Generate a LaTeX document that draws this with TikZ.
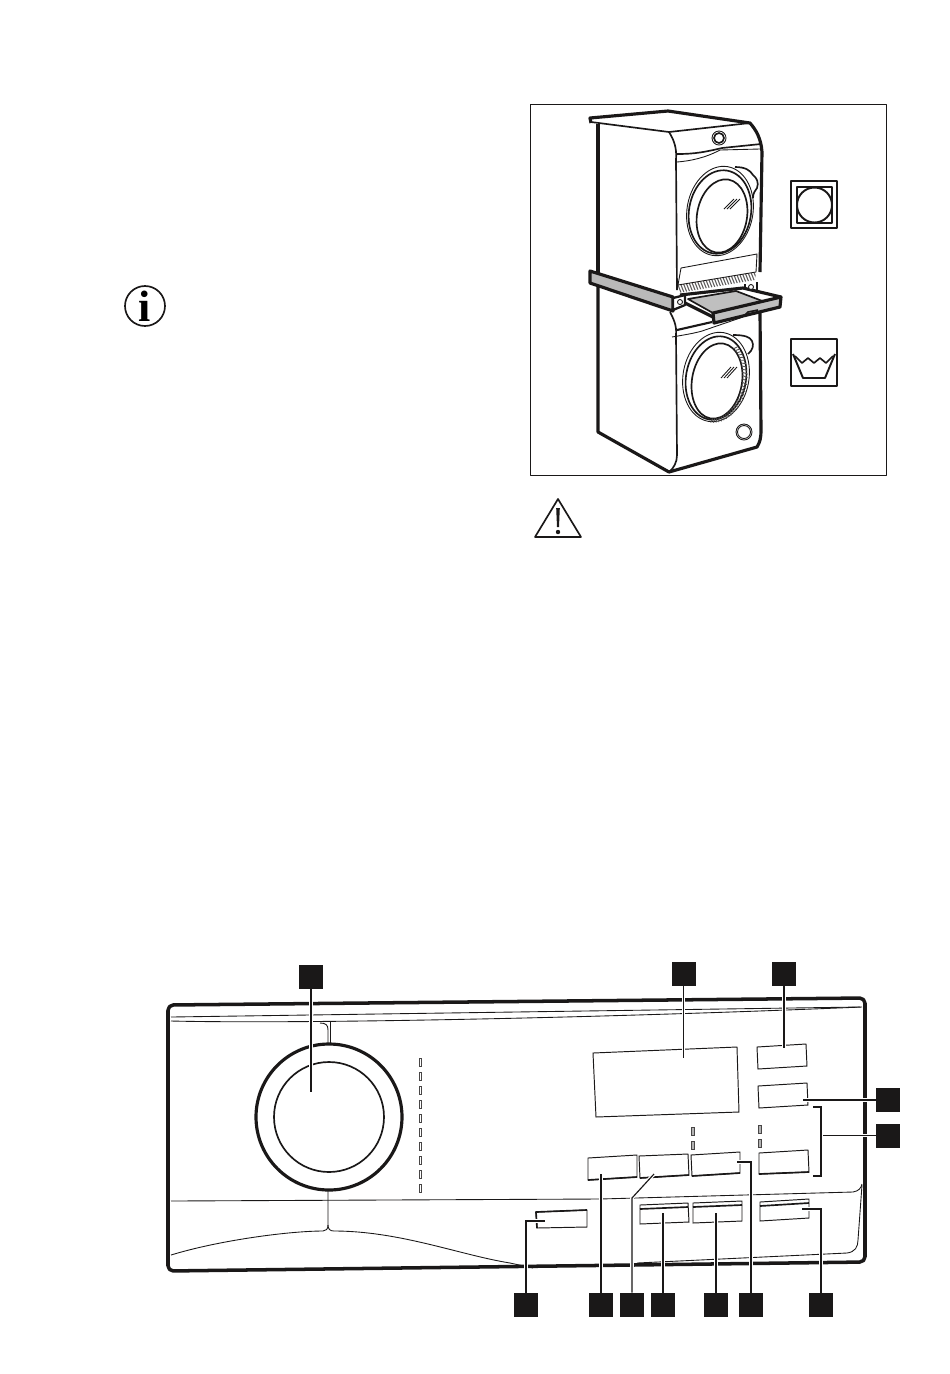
\documentclass[tikz,border=0pt]{standalone}
\usepackage{fontspec}
\newfontfamily\iconfont{Liberation Serif}
\definecolor{ink}{HTML}{1A1818}
\tikzset{
x=0.02cm, y=-0.02cm,
callout/.style = {fill = ink, shape = rectangle, inner sep = 0pt, minimum size = 0.48cm},
leader/.style = {preaction = {draw = white, line width = 2pt}, draw = ink, line width = 0.65pt},
heavy/.style = {draw = ink, line width = 1.8pt, line join = round},
medium/.style = {draw = ink, line width = 0.95pt, line join = round},
fine/.style = {draw = ink, line width = 0.5pt, line join = round},
panelkey/.style = {draw = ink, line width = 0.55pt, fill = white},
led/.style = {draw = ink!80, line width = 0.4pt}
}
\begin{document}
\begin{tikzpicture}
\useasboundingbox (0,0) rectangle (950,1374);
\draw[fine] (530,104) rectangle (886,475);
% info and warning signs
\draw[medium] (145,306) circle [radius = 20];
\node[font = \iconfont\bfseries\fontsize{25}{25}\selectfont, inner sep = 0pt] (infomark) at (145,306) {i};
\draw[medium] (535,537) -- (558,499) -- (581,537) -- cycle;
\fill[ink] (556.2,508) -- (559.8,508) -- (559,527) -- (557,527) -- cycle;
\fill[ink] (558,532) circle [radius = 2.2];
% dryer
\draw[heavy] (591,123) -- (590,118) -- (668,111) -- (750,123) .. controls (756,130) and (761,138) .. (762,152) -- (760,272);
\draw[medium] (591,122) -- (669,132) -- (750,123);
\draw[heavy] (598,124) -- (598,274);
\draw[medium] (669,132) .. controls (674,140) and (677,148) .. (676,160) -- (677,290);
\draw[medium] (677,154) .. controls (695,154) and (705,152) .. (722,148) -- (761,144);
\draw[fine] (677,162) .. controls (690,161) and (705,158) .. (720,150) -- (760,149);
\draw[fine] (719,138) circle [radius = 7];
\draw[medium] (719,138) circle [radius = 5];
\draw[fine, rotate around = {-10:(720,211)}] (720,211) ellipse [x radius = 33, y radius = 45];
\draw[medium, rotate around = {-10:(720,212)}] (720,212) ellipse [x radius = 31, y radius = 42];
\draw[medium, rotate around = {-10:(722,216)}] (722,216) ellipse [x radius = 25, y radius = 37];
\draw[medium] (735,167) .. controls (745,167) and (750,170) .. (753,175) .. controls (757,178) and (759,183) .. (757,188) .. controls (755,191) and (753,193) .. (753,198);
\foreach \dx in {0,3,6} {
\draw[fine] (724+\dx,209) -- (734+\dx,199);
}
\draw[fine] (678,285) -- (681,268) -- (757,254) -- (756,272);
\begin{scope}
\clip (678,285) -- (756,272) -- (755,280) -- (678,293) -- cycle;
\foreach \hx in {670,673,...,760} {
\draw[ink!70, line width = 0.6pt] (\hx,265) -- (\hx+12,295);
}
\end{scope}
\draw[fine] (678,285) -- (756,272);
% washer
\draw[heavy] (598,286) -- (598,432) -- (669,472) -- (757,447) .. controls (760,442) and (761,438) .. (761,430) -- (760,312);
\draw[medium] (670,312) .. controls (673,318) and (677,325) .. (676,335) -- (677,455) .. controls (677,462) and (674,468) .. (669,472);
\draw[fine] (672,337) .. controls (690,334) and (700,332) .. (705,330) -- (743,317);
\draw[heavy, line width = 1.2pt] (677,330) -- (712,322);
\draw[fine, rotate around = {-10:(716,377)}] (716,377) ellipse [x radius = 33, y radius = 45];
\draw[medium, rotate around = {-10:(716,378)}] (716,378) ellipse [x radius = 30, y radius = 42];
\draw[medium, rotate around = {-10:(717,381)}] (717,381) ellipse [x radius = 25, y radius = 38];
\begin{scope}[shift = {(717,381)}, rotate = -10]
\foreach \ang in {-65,-60,...,85} {
\draw[ink!75, line width = 0.5pt] (\ang:25 and 38) -- (\ang+3:30 and 42);
}
\end{scope}
\draw[medium] (733,335) .. controls (745,335) and (750,337) .. (752,341) .. controls (754,345) and (753,350) .. (748,354);
\foreach \dx in {0,3,6} {
\draw[fine] (721+\dx,378) -- (731+\dx,367);
}
\draw[fine] (744,432) circle [radius = 8];
\draw[fine] (744,432) circle [radius = 6.5];
% stacking kit
\draw[heavy, fill = gray!55] (590,271) -- (673,297) -- (673,311) -- (590,283) -- cycle;
\draw[heavy] (680,295) -- (743,288) -- (781,297);
\draw[medium, fill = gray!50] (688,299) -- (736,291) -- (765,302) -- (713,313) -- cycle;
\draw[heavy] (685,303) -- (713,317);
\draw[heavy, fill = gray!50] (713,313) -- (781,297) -- (780,307) -- (714,323) -- cycle;
\draw[medium] (745,315) -- (748,312) -- (758,310);
\draw[heavy, line width = 1.3pt, fill = white] (673,298) -- (685,295) -- (685,305) -- (673,310) -- cycle;
\draw[fine, fill = white] (680,302) circle [radius = 2.5];
\draw[heavy, line width = 1.3pt] (745,284) -- (745,289);
\draw[heavy, line width = 1.3pt] (757,282) -- (757,293);
\draw[fine, fill = white] (751,287) circle [radius = 2.5];
% care symbols
\draw[medium, line width = 1.1pt] (791,181) rectangle (837,228);
\draw[medium, line width = 1.1pt] (797,187) rectangle (832,223);
\draw[medium, line width = 1.1pt] (814.5,205) circle [radius = 17.5];
\draw[medium, line width = 1.1pt] (791,339) rectangle (837,386);
\draw[medium, line width = 1.1pt] (793,354) -- (803,378) -- (825,378) -- (835,354);
\draw[medium] (795,356) -- (802,363) -- (808,358) -- (814,363) -- (820,358) -- (826,363) -- (833,356);
% control panel
\draw[heavy, line width = 2pt, rounded corners = 3pt] (168,1005) -- (865,998) -- (865,1262) -- (168,1271) -- cycle;
\draw[fine] (171,1017) -- (860,1007);
\draw[fine] (171,1021) .. controls (300,1024) and (600,1018) .. (862,1007);
\draw[fine] (171,1201) -- (600,1199) -- (853,1192) .. controls (859,1191) and (861,1188) .. (862,1184);
\draw[fine] (171,1255) .. controls (220,1240) and (290,1231) .. (323,1231) .. controls (326,1231) and (328,1229) .. (328,1225) -- (328,1190);
\draw[fine] (328,1225) .. controls (328,1229) and (330,1231) .. (334,1231) .. controls (400,1231) and (460,1255) .. (510,1263) -- (533,1268);
\draw[fine] (637,1263) -- (847,1253) .. controls (855,1252) and (858,1247) .. (858,1240) -- (862,1185);
\draw[fine] (320,1023) .. controls (326,1023) and (328,1025) .. (328,1030) -- (328,1043);
\draw[fine] (330,1022) -- (330,1043);
\draw[heavy] (329,1117) circle [radius = 73];
\draw[medium] (329,1117) circle [radius = 55];
\foreach \ly in {0,...,9} {
\draw[led] (419,1058+14*\ly) rectangle (421.5,1066+14*\ly);
}
\foreach \lx/\ly in {693/1127,693/1141,760/1125,760/1139} {
\draw[led, fill = gray!60] (\lx-1.5,\ly) rectangle (\lx+1.5,\ly+8);
}
\draw[panelkey] (593,1053) -- (737,1047) -- (739,1112) -- (596,1117) -- cycle;
\draw[panelkey] (757,1047) -- (806,1044) -- (807,1066) -- (758,1069) -- cycle;
\draw[panelkey] (758,1086) -- (807,1083) -- (808,1105) -- (759,1108) -- cycle;
\draw[panelkey] (759,1153) -- (808,1150) -- (809,1172) -- (759,1174) -- cycle;
\draw[medium] (759,1174) -- (809,1172);
\draw[panelkey] (588,1158) -- (637,1155) -- (637,1177) -- (588,1180) -- cycle;
\draw[medium] (588,1180) -- (637,1177);
\draw[panelkey] (639,1156) -- (688,1154) -- (689,1175) -- (640,1178) -- cycle;
\draw[medium] (640,1178) -- (689,1175);
\draw[panelkey] (691,1155) -- (740,1152) -- (740,1173) -- (692,1176) -- cycle;
\draw[medium] (692,1176) -- (740,1173);
\draw[panelkey] (536,1212) -- (587,1210) -- (587,1227) -- (537,1228) -- cycle;
\draw[medium] (537,1228) -- (536,1212) -- (587,1210);
\draw[panelkey] (640,1205) -- (688,1203) -- (689,1222) -- (640,1224) -- cycle;
\draw[medium] (640,1209) -- (688,1207);
\draw[panelkey] (693,1203) -- (742,1201) -- (742,1221) -- (693,1223) -- cycle;
\draw[medium] (693,1207) -- (742,1205);
\draw[panelkey] (760,1202) -- (809,1199) -- (809,1218) -- (760,1221) -- cycle;
\draw[medium] (760,1206) -- (809,1203);
% callouts
\node[callout] (c1) at (311,977) {};
\node[callout] (c2) at (683.5,974) {};
\node[callout] (c3) at (784,974) {};
\node[callout] (c4) at (888,1100) {};
\node[callout] (c5) at (888,1135.5) {};
\node[callout] (c6) at (526,1305) {};
\node[callout] (c7) at (601,1305) {};
\node[callout] (c8) at (632,1305) {};
\node[callout] (c9) at (663,1305) {};
\node[callout] (c10) at (716,1305) {};
\node[callout] (c11) at (751,1305) {};
\node[callout] (c12) at (821,1305) {};
\coordinate (t1) at (311,1092);
\coordinate (t2) at (683.5,1058);
\coordinate (t3) at (784,1048);
\coordinate (t4) at (803,1100);
\coordinate (t5) at (821,1135.5);
\coordinate (t6) at (545,1221);
\coordinate (t7) at (601,1174);
\coordinate (t8) at (654,1174);
\coordinate (b8) at (632,1198);
\coordinate (t9) at (663,1213);
\coordinate (t10) at (716,1213);
\coordinate (t11) at (737,1162);
\coordinate (t12) at (802,1209);
\coordinate (br1) at (813,1107);
\coordinate (br2) at (813,1176);
\draw[leader] (c1) -- (t1);
\draw[leader] (c2) -- (t2);
\draw[leader] (c3) -- (t3);
\draw[leader] (c4) -- (t4);
\draw[leader] (c5) -- (t5);
\draw[leader] (c6.north) |- (t6);
\draw[leader] (c7) -- (t7);
\draw[leader] (c8) -- (b8) -- (t8);
\draw[leader] (c9) -- (t9);
\draw[leader] (c10) -- (t10);
\draw[leader] (c11.north) |- (t11);
\draw[leader] (c12.north) |- (t12);
\draw[leader] (br1) -| (t5) |- (br2);
\end{tikzpicture}
\end{document}
